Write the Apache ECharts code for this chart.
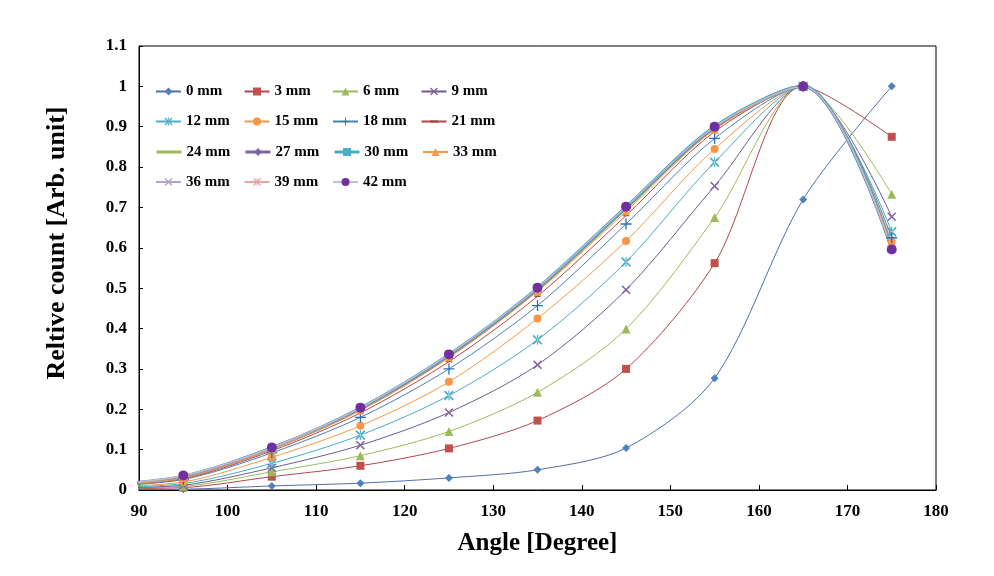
<!DOCTYPE html>
<html>
<head>
<meta charset="utf-8">
<script src="https://cdn.jsdelivr.net/npm/echarts@6/dist/echarts.min.js"></script>
<style>html,body{margin:0;padding:0;background:#fff;}#chart{width:994px;height:576px;}</style>
</head>
<body>
<div id="chart"></div>
<script>
// Angles (degrees); 85 is an off-axis leading point of the smoothed lines (clipped)
const angles = [85, 95, 105, 115, 125, 135, 145, 155, 165, 175];
const seriesNames = ['0 mm','3 mm','6 mm','9 mm','12 mm','15 mm','18 mm','21 mm','24 mm','27 mm','30 mm','33 mm','36 mm','39 mm','42 mm'];
const v0mm  = [0.001, 0.002, 0.010, 0.017, 0.030, 0.050, 0.104, 0.277, 0.720, 1.000];
const v3mm  = [0.003, 0.006, 0.033, 0.060, 0.103, 0.172, 0.300, 0.562, 1.000, 0.875];
const v6mm  = [0.004, 0.009, 0.045, 0.085, 0.145, 0.242, 0.399, 0.675, 1.000, 0.733];
const v9mm  = [0.005, 0.012, 0.055, 0.111, 0.192, 0.310, 0.496, 0.753, 1.000, 0.677];
const v12mm = [0.006, 0.016, 0.066, 0.136, 0.234, 0.372, 0.565, 0.812, 1.000, 0.640];
const v15mm = [0.007, 0.020, 0.081, 0.159, 0.268, 0.425, 0.617, 0.845, 1.000, 0.615];
const v18mm = [0.008, 0.026, 0.092, 0.180, 0.300, 0.457, 0.659, 0.871, 1.000, 0.625];
const v21mm = [0.009, 0.028, 0.097, 0.191, 0.318, 0.480, 0.680, 0.888, 1.000, 0.605];
const v24mm = [0.010, 0.032, 0.103, 0.200, 0.332, 0.497, 0.698, 0.898, 1.000, 0.600];
const v27mm = [0.010, 0.033, 0.104, 0.202, 0.334, 0.499, 0.700, 0.899, 1.000, 0.598];
const v30mm = [0.010, 0.034, 0.104, 0.203, 0.335, 0.500, 0.701, 0.900, 1.000, 0.597];
const v33mm = [0.010, 0.030, 0.101, 0.197, 0.328, 0.492, 0.690, 0.893, 1.000, 0.603];
const v36mm = [0.010, 0.034, 0.104, 0.203, 0.335, 0.500, 0.701, 0.899, 1.000, 0.598];
const v39mm = [0.010, 0.035, 0.105, 0.203, 0.336, 0.501, 0.702, 0.900, 1.000, 0.597];
const v42mm = [0.010, 0.036, 0.105, 0.204, 0.336, 0.501, 0.702, 0.900, 1.000, 0.596];
const allValues = [v0mm,v3mm,v6mm,v9mm,v12mm,v15mm,v18mm,v21mm,v24mm,v27mm,v30mm,v33mm,v36mm,v39mm,v42mm];
const xTicks = [90, 100, 110, 120, 130, 140, 150, 160, 170, 180];
const yTicks = [0, 0.1, 0.2, 0.3, 0.4, 0.5, 0.6, 0.7, 0.8, 0.9, 1, 1.1];

const P_X = 'path://M0,1.2L1.2,0L5,3.8L8.8,0L10,1.2L6.2,5L10,8.8L8.8,10L5,6.2L1.2,10L0,8.8L3.8,5Z';
const P_PLUS = 'path://M4.4,0L5.6,0L5.6,4.4L10,4.4L10,5.6L5.6,5.6L5.6,10L4.4,10L4.4,5.6L0,5.6L0,4.4L4.4,4.4Z';
const P_STAR = 'path://M0,1.2L1.2,0L5,3.8L8.8,0L10,1.2L6.2,5L10,8.8L8.8,10L5,6.2L1.2,10L0,8.8L3.8,5Z M4.45,0L4.45,10L5.55,10L5.55,0Z';
const P_DASH = 'path://M0,0L0.01,0L0,0.01Z M0,3.8L10,3.8L10,6.2L0,6.2Z M10,10L9.99,10L10,9.99Z';

const styles = [
  {line:'#4F6FA8', mark:'#4F81BD', sym:'diamond', size:8, w:1},
  {line:'#B0474A', mark:'#C0504D', sym:'rect', size:8, w:1},
  {line:'#9BBB59', mark:'#9BBB59', sym:'triangle', size:9, w:1},
  {line:'#6E5B8E', mark:'#8064A2', sym:P_X, size:9, w:1},
  {line:'#4BACC6', mark:'#4BACC6', sym:P_STAR, size:10, w:1},
  {line:'#F79646', mark:'#F79646', sym:'circle', size:8, w:1},
  {line:'#4A7EBB', mark:'#2C6FBF', sym:P_PLUS, size:11, w:1},
  {line:'#B0474A', mark:'#A0403D', sym:P_DASH, size:6, w:1},
  {line:'#9BBB59', mark:'#9BBB59', sym:'none', size:0, w:3},
  {line:'#8064A2', mark:'#8064A2', sym:'diamond', size:9, w:3},
  {line:'#4BACC6', mark:'#4BACC6', sym:'rect', size:8, w:3},
  {line:'#F79646', mark:'#F79646', sym:'triangle', size:8, w:1},
  {line:'#B3A2C7', mark:'#B3A2C7', sym:P_X, size:8, w:1},
  {line:'#E6A5A3', mark:'#E6A5A3', sym:P_STAR, size:9, w:1},
  {line:'#C9BBDF', mark:'#7030A0', sym:'circle', size:10, w:1}
];

const series = seriesNames.map((name, i) => ({
  name: name,
  type: 'line',
  smooth: 0.3,
  clip: true,
  symbol: styles[i].sym === 'none' ? 'circle' : styles[i].sym,
  symbolSize: styles[i].size,
  showSymbol: styles[i].sym !== 'none',
  lineStyle: {color: styles[i].line, width: styles[i].w},
  itemStyle: {color: styles[i].mark, borderWidth: 0},
  emphasis: {disabled: true},
  data: angles.map((a, j) => j === 0 ? {value: [a, allValues[i][j]], symbol: 'none'} : [a, allValues[i][j]])
}));

const legendFont = {fontFamily: 'Liberation Serif', fontWeight: 'bold', fontSize: 15, color: '#000', width: 53, lineHeight: 15};
const rows = [[0,1,2,3],[4,5,6,7],[8,9,10,11],[12,13,14]];
const rowTops = [84, 114, 144.5, 174.5];
const legendItem = (i) => {
  const it = {name: seriesNames[i]};
  if (styles[i].sym === 'none') {
    it.itemStyle = {color: 'rgba(0,0,0,0)', borderWidth: 0};
    it.lineStyle = {width: 3};
  } else if (styles[i].w > 1) {
    it.lineStyle = {width: 3};
  }
  return it;
};
const legends = rows.map((r, k) => ({
  show: true,
  left: 155,
  top: rowTops[k],
  orient: 'horizontal',
  padding: 0,
  itemWidth: 25,
  itemHeight: 10,
  itemGap: 4.5,
  textStyle: legendFont,
  data: r.map(legendItem)
}));

const chart = echarts.init(document.getElementById('chart'), null, {renderer: 'canvas'});
chart.setOption({
  animation: false,
  backgroundColor: '#fff',
  legend: legends,
  grid: {left: 139, right: 58, top: 46, bottom: 86, show: true, borderColor: '#000', borderWidth: 1, containLabel: false},
  xAxis: {
    type: 'value', min: xTicks[0], max: xTicks[xTicks.length-1], interval: 10,
    name: 'Angle [Degree]', nameLocation: 'middle', nameGap: 41,
    nameTextStyle: {fontFamily: 'Liberation Serif', fontWeight: 'bold', fontSize: 25, color: '#000'},
    axisLine: {show: true, onZero: false, lineStyle: {color: '#000', width: 1}},
    axisTick: {show: true, inside: true, length: 5, lineStyle: {color: '#000'}},
    splitLine: {show: false},
    axisLabel: {fontFamily: 'Liberation Serif', fontWeight: 'bold', fontSize: 17, color: '#000', margin: 13}
  },
  yAxis: {
    type: 'value', min: yTicks[0], max: yTicks[yTicks.length-1], interval: 0.1,
    name: 'Reltive count [Arb. unit]', nameLocation: 'middle', nameGap: 69, nameRotate: 90,
    nameTextStyle: {fontFamily: 'Liberation Serif', fontWeight: 'bold', fontSize: 26, color: '#000', padding: [0, 0, 0, 50]},
    axisLine: {show: true, lineStyle: {color: '#000', width: 1}},
    axisTick: {show: true, inside: true, length: 4, lineStyle: {color: '#000'}},
    splitLine: {show: false},
    axisLabel: {fontFamily: 'Liberation Serif', fontWeight: 'bold', fontSize: 17, color: '#000', margin: 12,
      formatter: v => String(Math.round(v * 10) / 10)}
  },
  series: series
});
</script>
</body>
</html>
